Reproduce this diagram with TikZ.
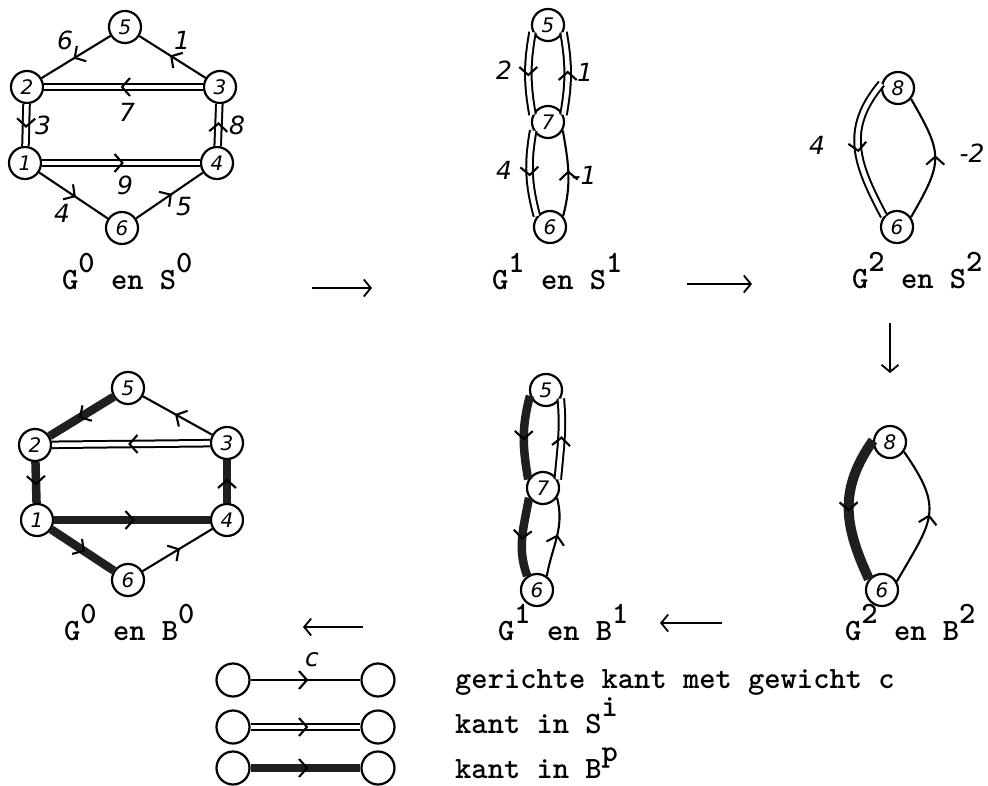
\documentclass[tikz,border=0pt]{standalone}
\usepackage{fontspec}
\usetikzlibrary{arrows.meta,decorations.markings}
\newfontfamily\handf{DejaVu Sans}
\newcommand\numf{\fontsize{20}{20}\selectfont\handf\itshape}
\newcommand\wtf{\fontsize{25}{25}\selectfont\handf\itshape}
\newcommand\txf{\fontsize{31}{31}\selectfont\ttfamily\bfseries}
\newcommand\upx[1]{\raisebox{17pt}{#1}}
\newcommand\edgeX[4]{\draw[#1] (#2) #3 (#4); \path[chv] (#2) #3 (#4);}
\tikzset{
  vtx/.style={circle, draw, line width=2.2pt, minimum size=32pt, inner sep=0pt, font=\numf},
  sgl/.style={line width=2.1pt},
  dbl/.style={double, double distance=4.5pt, line width=2pt},
  thk/.style={line width=8.5pt, black!88},
  wl/.style={font=\wtf, inner sep=0pt},
  lbl/.style={font=\txf, anchor=base west, inner sep=0pt},
  chv/.style={decorate, decoration={markings, mark=at position #1 with {\draw[line width=2.1pt, black] (-6.5pt,9pt) -- (1.5pt,0pt) -- (-6.5pt,-9pt);}}},
  chv/.default=0.5,
  pan/.style={line width=1.8pt, -{Straight Barb[length=7pt, width=17pt]}},
}
\begin{document}
\begin{tikzpicture}[x=1pt,y=1pt]
\fill[white] (0,0) rectangle (988,-786);
\useasboundingbox (0,0) rectangle (988,-786);

% ---------- G0 en S0 ----------
\node[vtx] (a5) at (125,-27) {5};
\node[vtx] (a2) at (27,-87) {2};
\node[vtx] (a3) at (220,-87) {3};
\node[vtx] (a1) at (25,-163) {1};
\node[vtx] (a4) at (217,-163) {4};
\node[vtx] (a6) at (122,-228) {6};
\edgeX{sgl}{a5}{--}{a2}
\edgeX{sgl}{a3}{--}{a5}
\edgeX{dbl}{a3}{--}{a2}
\edgeX{dbl}{a2}{--}{a1}
\edgeX{dbl}{a4}{--}{a3}
\edgeX{dbl}{a1}{--}{a4}
\edgeX{sgl}{a1}{--}{a6}
\edgeX{sgl}{a6}{--}{a4}
\node[wl] (wa6) at (65,-40) {6};
\node[wl] (wa1) at (182,-40) {1};
\node[wl] (wa7) at (127,-112) {7};
\node[wl] (wa3) at (43,-125) {3};
\node[wl] (wa8) at (237,-125) {8};
\node[wl] (wa9) at (125,-185) {9};
\node[wl] (wa4) at (62,-213) {4};
\node[wl] (wa5) at (184,-207) {5};
\node[lbl] (ta) at (62,-290) {G\upx{0} en S\upx{0}};

% ---------- G1 en S1 ----------
\node[vtx] (b5) at (548,-25) {5};
\node[vtx] (b7) at (548,-122) {7};
\node[vtx] (b6) at (550,-227) {6};
\edgeX{dbl}{b5.205}{to[out=260,in=100]}{b7.155}
\edgeX{dbl}{b7.25}{to[out=80,in=280]}{b5.335}
\edgeX{dbl}{b7.210}{to[out=260,in=105]}{b6.140}
\edgeX{sgl}{b6.40}{to[out=75,in=280]}{b7.330}
\node[wl] (wb2) at (504,-70) {2};
\node[wl] (wb1) at (585,-72) {1};
\node[wl] (wb4) at (504,-170) {4};
\node[wl] (wbm) at (584,-175) {-1};
\node[lbl] (tb) at (492,-290) {G\upx{1} en S\upx{1}};

% ---------- G2 en S2 ----------
\node[vtx] (c8) at (898,-88) {8};
\node[vtx] (c6) at (897,-227) {6};
\edgeX{dbl}{c8.165}{to[out=230,in=118,looseness=1.15]}{c6.140}
\edgeX{sgl}{c6.35}{to[out=60,in=-60,looseness=1.4]}{c8.-40}
\node[wl] (wc4) at (817,-145) {4};
\node[wl] (wcm) at (972,-153) {-2};
\node[lbl] (tc) at (852,-289) {G\upx{2} en S\upx{2}};

% ---------- G0 en B0 ----------
\node[vtx] (d5) at (128,-388) {5};
\node[vtx] (d2) at (35,-445) {2};
\node[vtx] (d3) at (227,-443) {3};
\node[vtx] (d1) at (37,-520) {1};
\node[vtx] (d4) at (227,-520) {4};
\node[vtx] (d6) at (128,-580) {6};
\edgeX{thk}{d5}{--}{d2}
\edgeX{sgl}{d3}{--}{d5}
\edgeX{dbl}{d3}{--}{d2}
\edgeX{thk}{d2}{--}{d1}
\edgeX{thk}{d4}{--}{d3}
\edgeX{thk}{d1}{--}{d4}
\edgeX{thk}{d1}{--}{d6}
\edgeX{sgl}{d6}{--}{d4}
\node[lbl] (td) at (64,-640) {G\upx{0} en B\upx{0}};

% ---------- G1 en B1 ----------
\node[vtx] (e5) at (546,-390) {5};
\node[vtx] (e7) at (543,-488) {7};
\node[vtx] (e6) at (537,-590) {6};
\edgeX{thk}{e5.200}{to[out=255,in=100]}{e7.150}
\edgeX{dbl}{e7.30}{to[out=85,in=275]}{e5.330}
\edgeX{thk}{e7.215}{to[out=260,in=110]}{e6.125}
\edgeX{sgl}{e6.55}{to[out=80,in=285]}{e7.325}
\node[lbl] (te) at (498,-640) {G\upx{1} en B\upx{1}};

% ---------- G2 en B2 ----------
\node[vtx] (f8) at (890,-442) {8};
\node[vtx] (f6) at (882,-590) {6};
\edgeX{thk, line width=10pt}{f8.175}{to[out=235,in=115,looseness=1.1]}{f6.140}
\edgeX{sgl}{f6.30}{to[out=60,in=-55,looseness=1.4]}{f8.-35}
\node[lbl] (tf) at (845,-640) {G\upx{2} en B\upx{2}};

% ---------- panel arrows ----------
\coordinate (p1s) at (312,-288); \coordinate (p1e) at (372,-288);
\coordinate (p2s) at (687,-284); \coordinate (p2e) at (752,-284);
\coordinate (p3s) at (890,-323); \coordinate (p3e) at (890,-373);
\coordinate (p4s) at (722,-623); \coordinate (p4e) at (660,-623);
\coordinate (p5s) at (363,-627); \coordinate (p5e) at (303,-627);
\draw[pan] (p1s) -- (p1e);
\draw[pan] (p2s) -- (p2e);
\draw[pan] (p3s) -- (p3e);
\draw[pan] (p4s) -- (p4e);
\draw[pan] (p5s) -- (p5e);

% ---------- legend ----------
\node[vtx, minimum size=33pt] (l1a) at (233,-680) {};
\node[vtx, minimum size=33pt] (l1b) at (378,-680) {};
\node[vtx, minimum size=33pt] (l2a) at (233,-727) {};
\node[vtx, minimum size=33pt] (l2b) at (378,-727) {};
\node[vtx, minimum size=33pt] (l3a) at (233,-768) {};
\node[vtx, minimum size=33pt] (l3b) at (378,-768) {};
\edgeX{sgl}{l1a}{--}{l1b}
\edgeX{dbl}{l2a}{--}{l2b}
\edgeX{thk}{l3a}{--}{l3b}
\node[wl] (lc) at (312,-660) {c};
\node[lbl] (lt1) at (455,-688) {gerichte kant met gewicht c};
\node[lbl] (lt2) at (455,-733) {kant in S\upx{i}};
\node[lbl] (lt3) at (455,-778) {kant in B\upx{p}};
\end{tikzpicture}
\end{document}
